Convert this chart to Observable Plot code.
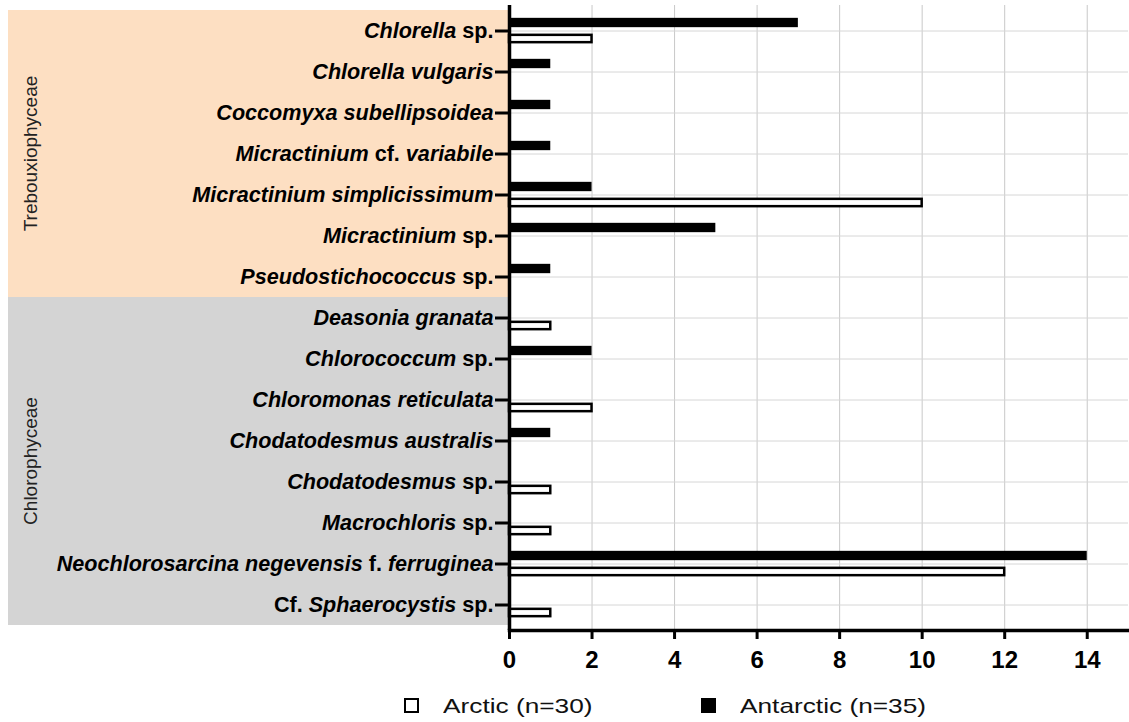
<!DOCTYPE html>
<html>
<head>
<meta charset="utf-8">
<script src="https://cdn.jsdelivr.net/npm/d3@7"></script>
<script src="https://cdn.jsdelivr.net/npm/@observablehq/plot@0.6"></script>
<style>
  body { margin: 0; background: #fff; font-family: "Liberation Sans", Arial, sans-serif; }
  #wrap { position: relative; width: 1129px; height: 722px; overflow: hidden; }
  #legend { position: absolute; left: 0; top: 690px; width: 1129px; height: 32px; }
  .sw { position: absolute; top: 8px; width: 15px; height: 15px; box-sizing: border-box; border: 2px solid #000; }
  .lt { position: absolute; top: 5px; font-size: 21px; line-height: 21px; color: #111;
        white-space: nowrap; transform-origin: 0 50%; transform: scaleX(1.25); }
</style>
</head>
<body>
<div id="wrap">
  <div id="chart"></div>
  <div id="legend">
    <div class="sw" style="left:404px;background:#fff"></div>
    <div class="lt" style="left:443px">Arctic (n=30)</div>
    <div class="sw" style="left:701px;background:#000"></div>
    <div class="lt" style="left:740px">Antarctic (n=35)</div>
  </div>
</div>
<script>
// Species labels; text between asterisks is set in italics.
const labels = [
  "*Chlorella* sp.",
  "*Chlorella vulgaris*",
  "*Coccomyxa subellipsoidea*",
  "*Micractinium* cf. *variabile*",
  "*Micractinium simplicissimum*",
  "*Micractinium* sp.",
  "*Pseudostichococcus* sp.",
  "*Deasonia granata*",
  "*Chlorococcum* sp.",
  "*Chloromonas reticulata*",
  "*Chodatodesmus australis*",
  "*Chodatodesmus* sp.",
  "*Macrochloris* sp.",
  "*Neochlorosarcina negevensis* f. *ferruginea*",
  "Cf. *Sphaerocystis* sp."
];

// Algal class of each species
const classOf = [
  "Trebouxiophyceae", "Trebouxiophyceae", "Trebouxiophyceae", "Trebouxiophyceae",
  "Trebouxiophyceae", "Trebouxiophyceae", "Trebouxiophyceae",
  "Chlorophyceae", "Chlorophyceae", "Chlorophyceae", "Chlorophyceae",
  "Chlorophyceae", "Chlorophyceae", "Chlorophyceae", "Chlorophyceae"
];

// Number of isolates per species
const arctic    = [2, 0, 0, 0, 10, 0, 0, 1, 0, 2, 0, 1, 1, 12, 1];
const antarctic = [7, 1, 1, 1, 2, 5, 1, 0, 2, 0, 1, 0, 0, 14, 0];

const xTicks = [0, 2, 4, 6, 8, 10, 12, 14];

const speciesNames = labels.map(s => s.replace(/\*/g, ""));
const rows = speciesNames.flatMap((s, i) => [
  {species: s, region: "Antarctic", count: antarctic[i]},
  {species: s, region: "Arctic", count: arctic[i]}
]);

const W = 1129, H = 690, mTop = 5, mBottom = 60, mLeft = 509, mRight = 1;
const step = (H - mTop - mBottom) / speciesNames.length;

// Coloured panels behind the species names, one per algal class
function classBands(index, scales, values, dimensions) {
  const y = scales.y;
  const bw = typeof y.bandwidth === "function" ? y.bandwidth() : y.bandwidth;
  const fills = {Trebouxiophyceae: "#fddfc2", Chlorophyceae: "#d4d4d4"};
  const g = d3.create("svg:g");
  const groups = d3.groups(speciesNames.map((s, i) => ({s, c: classOf[i]})), d => d.c);
  for (const [name, items] of groups) {
    const y0 = y(items[0].s);
    const y1 = y(items[items.length - 1].s) + bw;
    g.append("rect")
      .attr("x", 8).attr("y", y0)
      .attr("width", dimensions.marginLeft - 8).attr("height", y1 - y0)
      .attr("fill", fills[name]);
    g.append("text")
      .attr("transform", `translate(32,${(y0 + y1) / 2}) rotate(-90)`)
      .attr("text-anchor", "middle")
      .attr("dominant-baseline", "middle")
      .attr("font-size", 19)
      .attr("fill", "#222")
      .text(name);
  }
  return g.node();
}

const svg = Plot.plot({
  width: W, height: H,
  marginTop: mTop, marginBottom: mBottom, marginLeft: mLeft, marginRight: mRight,
  style: {fontFamily: "'Liberation Sans', Arial, sans-serif", color: "#000", background: "transparent", overflow: "visible"},
  x: {domain: [0, 15]},
  y: {domain: speciesNames, padding: 0},
  marks: [
    classBands,
    Plot.gridX({ticks: xTicks, stroke: "#c8c8c8", strokeOpacity: 1, strokeWidth: 1}),
    Plot.gridY({stroke: "#d6d6d6", strokeOpacity: 1, strokeWidth: 1}),
    Plot.barX(rows.filter(d => d.region === "Antarctic" && d.count > 0), {
      x: "count", y: "species", fill: "#000",
      insetTop: step / 2 - 13, insetBottom: step / 2 + 3
    }),
    Plot.barX(rows.filter(d => d.region === "Arctic" && d.count > 0), {
      x: "count", y: "species", fill: "#fff", stroke: "#000", strokeWidth: 2.5,
      insetTop: step / 2 + 4, insetBottom: step / 2 - 12
    }),
    Plot.ruleX([0], {stroke: "#000", strokeWidth: 3.5}),
    Plot.frame({anchor: "bottom", stroke: "#000", strokeWidth: 3.5}),
    Plot.axisY({tickSize: 14, tickPadding: 2, strokeWidth: 3, fontSize: 21.6, fontWeight: "bold", label: null}),
    Plot.axisX({ticks: xTicks, tickSize: 9, tickPadding: 11, strokeWidth: 3, fontSize: 24, fontWeight: "bold", label: null})
  ]
});

// Set genus and species epithets in italics within the y-axis labels
d3.select(svg).selectAll('g[aria-label="y-axis tick label"] text').each(function() {
  const name = this.textContent;
  const i = speciesNames.indexOf(name);
  if (i < 0) return;
  const parts = labels[i].split("*");
  const t = d3.select(this);
  t.text(null);
  parts.forEach((p, k) => {
    if (!p) return;
    t.append("tspan").attr("font-style", k % 2 ? "italic" : "normal").text(p);
  });
});

document.getElementById("chart").appendChild(svg);
</script>
</body>
</html>
